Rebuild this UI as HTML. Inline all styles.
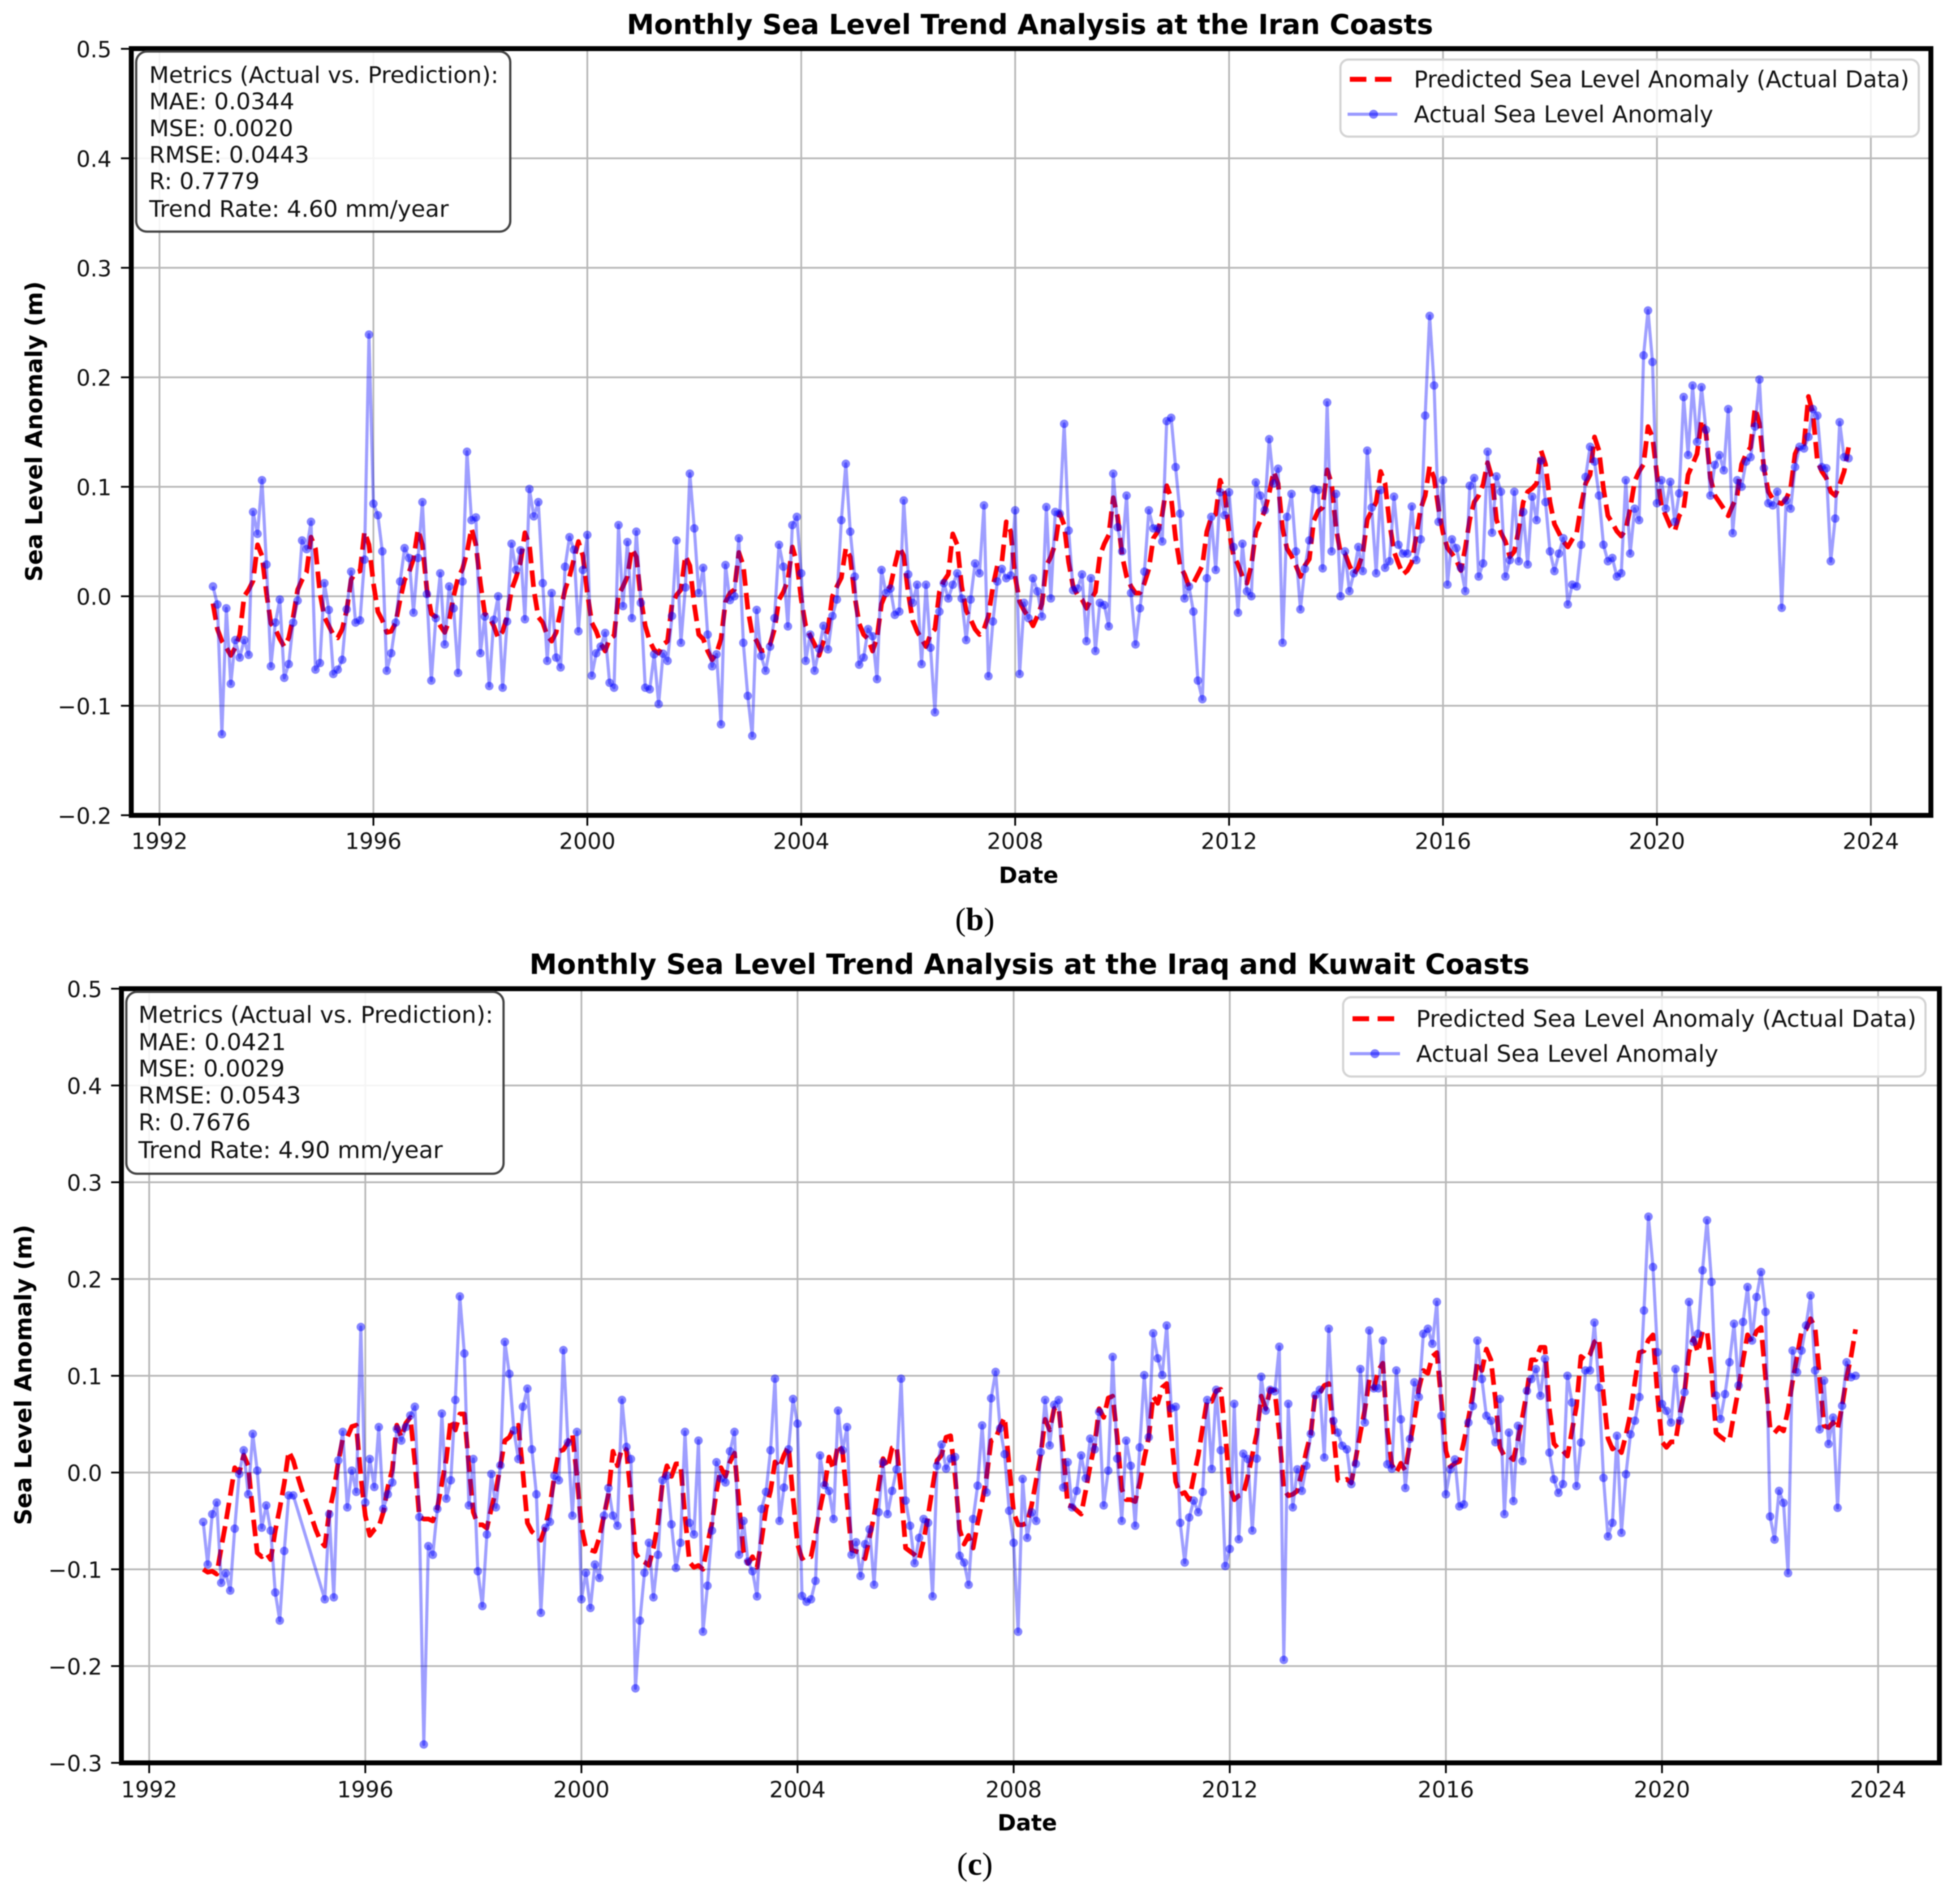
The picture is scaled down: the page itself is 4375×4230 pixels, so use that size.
<!DOCTYPE html>
<html lang="en">
<head>
<meta charset="utf-8">
<title>Monthly Sea Level Trend Analysis</title>
<style>
html,body{margin:0;padding:0;background:#fff;}
#figure{display:block;width:4375px;height:4230px;filter:blur(1.3px);}
text{font-family:"DejaVu Sans","Liberation Sans",sans-serif;fill:#000;}
.title{font-weight:bold;text-anchor:middle;}
.title-b{font-size:61.4px;}
.title-c{font-size:62px;}
.axis-label{font-size:50px;font-weight:bold;text-anchor:middle;}
.y-label{font-size:51.8px;}
.box-text-b{font-size:51.2px;fill:#111;}
.box-text-c{font-size:52px;fill:#111;}
.legend-text-b{font-size:51.5px;fill:#111;}
.legend-text-c{font-size:52px;fill:#111;}
.tick-label{font-size:49.5px;fill:#111;}
.caption{font-family:"Liberation Serif",serif;font-size:72px;text-anchor:middle;}
</style>
</head>
<body>
<svg id="figure" xmlns="http://www.w3.org/2000/svg" width="4375" height="4230" viewBox="0 0 4375 4230">
  <rect x="0" y="0" width="4375" height="4230" fill="#ffffff"/>

  <g id="chart-b"></g>
  <g>
    <rect x="304" y="115" width="835" height="402" rx="24" ry="24" fill="#ffffff" fill-opacity="0.85" stroke="#444444" stroke-width="5"/>
    <text class="box-text-b" x="333" y="185">Metrics (Actual vs. Prediction):</text>
    <text class="box-text-b" x="333" y="244">MAE: 0.0344</text>
    <text class="box-text-b" x="333" y="304">MSE: 0.0020</text>
    <text class="box-text-b" x="333" y="363">RMSE: 0.0443</text>
    <text class="box-text-b" x="333" y="422">R: 0.7779</text>
    <text class="box-text-b" x="333" y="484">Trend Rate: 4.60 mm/year</text>
  </g>
  <g>
    <rect x="2992" y="133" width="1291" height="172" rx="18" ry="18" fill="#ffffff" fill-opacity="0.8" stroke="#d4d4d4" stroke-width="5"/>
    <line x1="3013" y1="177" x2="3107" y2="177" stroke="#ff0000" stroke-width="11" stroke-dasharray="37 19"/>
    <text class="legend-text-b" x="3156" y="195">Predicted Sea Level Anomaly (Actual Data)</text>
    <line x1="3008" y1="255" x2="3119" y2="255" stroke="#0000ff" stroke-opacity="0.4" stroke-width="7"/>
    <circle cx="3066" cy="255" r="10" fill="#0000ff" fill-opacity="0.5"/>
    <text class="legend-text-b" x="3156" y="273">Actual Sea Level Anomaly</text>
  </g>
  <text class="title title-b" x="2299" y="76">Monthly Sea Level Trend Analysis at the Iran Coasts</text>
  <text class="axis-label" x="2296" y="1971">Date</text>
  <text class="axis-label y-label" transform="translate(94 963) rotate(-90)" x="0" y="0">Sea Level Anomaly (m)</text>
  <text class="caption" x="2176" y="2076">(<tspan font-weight="bold">b</tspan>)</text>

  <g id="chart-c"></g>
  <g>
    <rect x="282" y="2214" width="842" height="406" rx="24" ry="24" fill="#ffffff" fill-opacity="0.85" stroke="#444444" stroke-width="5"/>
    <text class="box-text-c" x="309" y="2283">Metrics (Actual vs. Prediction):</text>
    <text class="box-text-c" x="309" y="2344">MAE: 0.0421</text>
    <text class="box-text-c" x="309" y="2403">MSE: 0.0029</text>
    <text class="box-text-c" x="309" y="2463">RMSE: 0.0543</text>
    <text class="box-text-c" x="309" y="2523">R: 0.7676</text>
    <text class="box-text-c" x="309" y="2585">Trend Rate: 4.90 mm/year</text>
  </g>
  <g>
    <rect x="2998" y="2226" width="1300" height="177" rx="18" ry="18" fill="#ffffff" fill-opacity="0.8" stroke="#d4d4d4" stroke-width="5"/>
    <line x1="3019" y1="2274" x2="3113" y2="2274" stroke="#ff0000" stroke-width="11" stroke-dasharray="37 19"/>
    <text class="legend-text-c" x="3161" y="2292">Predicted Sea Level Anomaly (Actual Data)</text>
    <line x1="3013" y1="2352" x2="3125" y2="2352" stroke="#0000ff" stroke-opacity="0.4" stroke-width="7"/>
    <circle cx="3069" cy="2352" r="10" fill="#0000ff" fill-opacity="0.5"/>
    <text class="legend-text-c" x="3161" y="2370">Actual Sea Level Anomaly</text>
  </g>
  <text class="title title-c" x="2298" y="2174">Monthly Sea Level Trend Analysis at the Iraq and Kuwait Coasts</text>
  <text class="axis-label" x="2293" y="4086">Date</text>
  <text class="axis-label y-label" transform="translate(70 3069) rotate(-90)" x="0" y="0">Sea Level Anomaly (m)</text>
  <text class="caption" x="2176" y="4185">(<tspan font-weight="bold">c</tspan>)</text>
</svg>

<script>
const startYear = 1993;
const xTickYears = [1992,1996,2000,2004,2008,2012,2016,2020,2024];
const yTicksIran = [0.5,0.4,0.3,0.2,0.1,0,-0.1,-0.2];
const yTicksIraq = [0.5,0.4,0.3,0.2,0.1,0,-0.1,-0.2,-0.3];

const actualIran = [
0.009,-0.0075,-0.126,-0.011,-0.08,-0.04,-0.056,-0.04,-0.0535,0.077,0.057,0.106,
0.029,-0.064,-0.024,-0.003,-0.0745,-0.062,-0.024,-0.004,0.051,0.043,0.068,-0.067,
-0.061,0.012,-0.0125,-0.071,-0.067,-0.058,-0.012,0.0225,-0.024,-0.022,0.0335,0.239,
0.0845,0.074,0.041,-0.068,-0.052,-0.024,0.0135,0.044,0.035,-0.015,0.035,0.086,
0.002,-0.077,-0.02,0.021,-0.044,0.009,-0.011,-0.07,0.0135,0.132,0.0695,0.072,
-0.052,-0.0185,-0.082,-0.0215,0,-0.0835,-0.023,0.048,0.024,0.042,-0.021,0.098,
0.073,0.086,0.012,-0.059,0.003,-0.056,-0.065,0.027,0.054,0.0425,-0.032,0.024,
0.056,-0.0725,-0.052,-0.046,-0.0335,-0.079,-0.0835,0.065,-0.009,0.0495,-0.02,0.059,
-0.006,-0.0835,-0.085,-0.053,-0.0985,-0.0525,-0.059,-0.018,0.051,-0.0425,0.008,0.112,
0.062,0.003,0.026,-0.035,-0.064,-0.053,-0.117,0.0285,-0.0035,0,0.053,-0.0425,
-0.091,-0.1275,-0.0125,-0.0545,-0.068,-0.046,-0.02,0.047,0.027,-0.0275,0.065,0.0725,
0.021,-0.059,-0.035,-0.068,-0.048,-0.027,-0.0485,-0.018,-0.003,0.0695,0.121,0.059,
0.018,-0.0625,-0.056,-0.03,-0.0365,-0.0757,0.024,0.003,0.007,-0.017,-0.014,0.0875,
0.02,-0.006,0.0105,-0.062,0.0105,-0.047,-0.106,-0.014,0.012,-0.002,0.0105,0.021,
-0.002,-0.04,-0.003,0.03,0.021,0.083,-0.073,-0.023,0.0135,0.025,0.0165,0.019,
0.0785,-0.071,-0.006,-0.02,0.0165,0.0045,-0.0185,0.0815,-0.002,0.077,0.0755,0.1575,
0.06,0.0055,0.007,0.02,-0.041,0.0165,-0.05,-0.006,-0.008,-0.0275,0.112,0.063,
0.041,0.092,0.003,-0.044,-0.011,0.0225,0.0785,0.062,0.062,0.05,0.16,0.163,
0.118,0.0755,-0.002,0.009,-0.014,-0.077,-0.094,0.0165,0.0725,0.024,0.095,0.074,
0.095,0.045,-0.015,0.048,0.0045,0,0.104,0.092,0.0785,0.1435,0.103,0.1165,
-0.0425,0.0725,0.0935,0.041,-0.012,0.025,0.051,0.098,0.097,0.0255,0.177,0.041,
0.0935,0,0.041,0.0047,0.021,0.045,0.023,0.133,0.081,0.021,0.097,0.026,
0.032,0.091,0.047,0.039,0.039,0.082,0.033,0.052,0.165,0.256,0.1925,0.068,
0.106,0.0106,0.052,0.044,0.026,0.0047,0.101,0.108,0.018,0.03,0.132,0.058,
0.1095,0.0955,0.018,0.033,0.0955,0.032,0.077,0.029,0.091,0.0695,0.124,0.086,
0.041,0.023,0.039,0.053,-0.0075,0.0106,0.009,0.047,0.109,0.1365,0.123,0.092,
0.047,0.032,0.035,0.018,0.021,0.106,0.039,0.08,0.0695,0.22,0.261,0.214,
0.085,0.106,0.08,0.1045,0.068,0.094,0.182,0.129,0.1925,0.141,0.191,0.152,
0.092,0.12,0.129,0.115,0.171,0.0576,0.106,0.1,0.123,0.127,0.155,0.198,
0.117,0.085,0.083,0.0955,-0.0106,0.0876,0.08,0.118,0.1365,0.135,0.1455,0.171,
0.165,0.118,0.117,0.032,0.071,0.159,0.127,0.126
];

const predictedIran = [
-0.0066,-0.03,-0.041,-0.047,-0.054,-0.047,-0.035,0,0.006,0.014,0.047,0.037,
0.003,-0.025,-0.03,-0.039,-0.046,-0.038,-0.019,0.006,0.015,0.022,0.054,0.0435,
0.003,-0.019,-0.027,-0.035,-0.038,-0.03,-0.013,0.015,0.022,0.023,0.059,0.047,
0.012,-0.014,-0.022,-0.033,-0.032,-0.024,-0.003,0.015,0.022,0.034,0.061,0.047,
0.006,-0.016,-0.019,-0.027,-0.033,-0.022,0,0.017,0.025,0.04,0.062,0.047,
0.012,-0.016,-0.019,-0.027,-0.038,-0.032,-0.019,0.006,0.017,0.031,0.058,0.047,
0.006,-0.019,-0.024,-0.036,-0.041,-0.033,-0.013,0.006,0.018,0.034,0.05,0.037,
0.003,-0.024,-0.032,-0.043,-0.05,-0.039,-0.036,0.001,0.009,0.018,0.0435,0.036,
-0.002,-0.027,-0.041,-0.049,-0.052,-0.044,-0.041,-0.007,0.001,0.006,0.037,0.028,
-0.008,-0.035,-0.039,-0.05,-0.058,-0.052,-0.039,-0.005,0.003,0.006,0.04,0.028,
-0.011,-0.035,-0.041,-0.05,-0.049,-0.044,-0.03,-0.003,0.004,0.015,0.045,0.031,
-0.003,-0.027,-0.036,-0.044,-0.054,-0.041,-0.03,0,0.009,0.017,0.044,0.036,
0,-0.025,-0.035,-0.039,-0.05,-0.038,-0.007,0.003,0.009,0.028,0.045,0.037,
0.003,-0.022,-0.032,-0.039,-0.046,-0.035,-0.03,0.004,0.014,0.02,0.057,0.047,
0.009,-0.013,-0.021,-0.03,-0.035,-0.03,-0.018,0.009,0.028,0.031,0.068,0.059,
0.018,-0.005,-0.013,-0.019,-0.027,-0.018,-0.007,0.028,0.036,0.048,0.076,0.065,
0.031,0.009,0.001,-0.003,-0.011,-0.003,0.004,0.037,0.048,0.056,0.09,0.072,
0.037,0.018,0.009,0.003,0.003,0.012,0.025,0.053,0.059,0.075,0.101,0.09,
0.053,0.028,0.02,0.009,0.012,0.02,0.028,0.059,0.072,0.075,0.106,0.094,
0.059,0.037,0.029,0.018,0.012,0.028,0.059,0.069,0.078,0.094,0.114,0.103,
0.062,0.0435,0.037,0.028,0.018,0.028,0.034,0.069,0.078,0.081,0.1155,0.103,
0.062,0.04,0.039,0.028,0.02,0.0266,0.039,0.07,0.078,0.086,0.114,0.103,
0.067,0.041,0.03,0.02,0.0235,0.031,0.055,0.08,0.092,0.119,0.108,0.08,
0.058,0.044,0.039,0.033,0.0235,0.044,0.07,0.086,0.092,0.102,0.122,0.108,
0.07,0.058,0.05,0.036,0.041,0.061,0.086,0.0955,0.0985,0.103,0.133,0.1205,
0.086,0.066,0.058,0.05,0.045,0.052,0.058,0.083,0.103,0.111,0.1455,0.133,
0.0985,0.0735,0.067,0.0595,0.055,0.061,0.08,0.105,0.114,0.1205,0.155,0.1455,
0.111,0.083,0.0735,0.064,0.0595,0.0735,0.08,0.111,0.1205,0.13,0.161,0.149,
0.108,0.092,0.086,0.08,0.0735,0.083,0.092,0.1205,0.13,0.136,0.172,0.158,
0.117,0.0955,0.089,0.086,0.0845,0.089,0.0985,0.13,0.139,0.139,0.1825,0.167,
0.1235,0.114,0.108,0.0955,0.092,0.102,0.114,0.136
];

const actualIraq = [
-0.051,-0.095,-0.043,-0.031,-0.114,-0.104,-0.122,-0.058,-0.0015,0.023,-0.0225,0.04,
0.002,-0.057,-0.034,-0.06,-0.124,-0.153,-0.081,-0.0236,-0.0236,null,null,null,
null,null,null,-0.131,-0.043,-0.129,0.0125,0.042,-0.036,0.002,-0.02,0.1504,
-0.031,0.014,-0.015,0.047,-0.0376,-0.0225,-0.0103,0.045,0.033,0.047,0.059,0.068,
-0.046,-0.281,-0.076,-0.085,-0.0376,0.061,-0.027,-0.008,0.075,0.182,0.123,-0.034,
0.014,-0.102,-0.138,-0.064,-0.0015,-0.036,0.0074,0.135,0.102,0.0435,0.014,0.068,
0.0867,0.024,-0.0225,-0.145,-0.057,-0.051,-0.0033,-0.008,0.1265,0.031,-0.0446,0.042,
-0.131,-0.1036,-0.14,-0.095,-0.109,-0.0446,-0.016,-0.0446,-0.055,0.075,0.0265,0.014,
-0.223,-0.153,-0.1036,-0.0726,-0.129,-0.085,-0.008,-0.0033,-0.0535,-0.0985,-0.0726,0.042,
-0.052,-0.064,0.033,-0.1645,-0.117,-0.06,0.0107,-0.006,-0.0103,0.022,0.042,-0.085,
-0.05,-0.092,-0.102,-0.128,-0.0376,-0.02,0.023,0.097,-0.05,-0.0155,0.024,0.076,
0.0505,-0.1276,-0.1335,-0.131,-0.112,0.0177,-0.013,-0.019,-0.048,0.064,0.023,0.047,
-0.085,-0.072,-0.107,-0.074,-0.0586,-0.116,-0.041,0.0107,-0.043,-0.019,0.0033,0.097,
-0.029,-0.055,-0.0937,-0.0675,-0.048,-0.052,-0.128,0.007,0.029,0.004,0.0144,0.016,
-0.086,-0.093,-0.116,-0.048,-0.0136,0.0487,-0.0206,0.0767,0.104,0.0457,0.019,-0.0395,
-0.0726,-0.1645,-0.0066,-0.0675,-0.041,-0.05,0.021,0.075,0.028,0.07,0.075,-0.0155,
0.0107,-0.036,-0.019,0.0177,-0.006,0.035,0.024,0.0627,-0.034,0.002,0.1195,0.0144,
-0.05,0.033,0.007,-0.055,0.026,0.1007,0.0365,0.144,0.118,0.1007,0.152,0.0664,
0.068,-0.052,-0.093,-0.0465,-0.029,-0.041,-0.02,0.075,0.0037,0.0855,0.023,-0.0966,
-0.079,0.071,-0.069,0.0195,0.014,-0.06,0.0144,0.099,0.064,0.0855,0.084,0.13,
-0.1936,0.071,-0.036,0.0033,-0.019,0.007,0.04,0.08,0.0855,0.0155,0.1486,0.0535,
0.0413,0.0277,0.024,-0.012,0.009,0.107,0.0516,0.1468,0.087,0.087,0.1364,0.0085,
0.004,0.1055,0.055,-0.016,0.0347,0.0933,0.078,0.1434,0.1486,0.133,0.1763,0.0586,
-0.0225,0.0033,0.0136,-0.035,-0.033,0.0516,0.0686,0.1364,0.0966,0.0586,0.0535,0.0313,
0.076,-0.043,0.0413,-0.0295,0.0483,0.0118,0.0844,0.0966,0.107,0.0793,0.1176,0.0206,
-0.007,-0.021,-0.012,0.1,0.0723,-0.014,0.031,0.1055,0.1055,0.155,0.0878,-0.0055,
-0.066,-0.052,0.038,-0.0623,-0.0018,0.0395,0.0535,0.078,0.1674,0.2644,0.2124,0.1243,
0.0708,0.0638,0.0516,0.107,0.0535,0.083,0.1763,0.135,0.1434,0.209,0.2607,0.197,
0.0796,0.0553,0.081,0.114,0.1538,0.09,0.1556,0.1917,0.1364,0.1814,0.2072,0.166,
-0.0454,-0.0693,-0.019,-0.0313,-0.104,0.126,0.1036,0.126,0.152,0.183,0.1055,0.0446,
0.095,0.0295,0.0568,-0.0365,0.069,0.114,0.0985,0.1
];

const predictedIraq = [
-0.1,-0.103,-0.102,-0.105,-0.078,-0.052,-0.024,0.005,0,0.018,0.007,-0.041,
-0.083,-0.087,-0.083,-0.09,-0.06,-0.037,-0.011,0.022,0.0125,-0.004,-0.019,-0.032,
-0.045,-0.059,-0.07,-0.076,-0.041,-0.019,0.011,0.035,0.0365,0.0475,0.049,-0.004,
-0.0446,-0.065,-0.059,-0.056,-0.041,-0.015,0.003,0.049,0.0365,0.051,0.057,0.011,
-0.046,-0.048,-0.048,-0.05,-0.037,-0.011,0.014,0.055,0.044,0.0605,0.0605,0.007,
-0.041,-0.054,-0.054,-0.0575,-0.037,-0.019,0.007,0.033,0.0365,0.046,0.049,0,
-0.052,-0.061,-0.065,-0.07,-0.056,-0.0335,-0.004,0.022,0.0235,0.031,0.04,-0.004,
-0.056,-0.078,-0.08,-0.0815,-0.067,-0.0446,-0.0225,0.022,0.007,0.0255,0.0235,-0.026,
-0.083,-0.09,-0.0925,-0.096,-0.078,-0.052,-0.011,0.007,-0.004,0.009,0.009,-0.0446,
-0.0925,-0.098,-0.096,-0.1,-0.074,-0.052,-0.019,0.005,-0.004,0.011,0.02,-0.0335,
-0.0815,-0.094,-0.087,-0.098,-0.07,-0.037,-0.019,0.011,0.005,0.018,0.027,-0.026,
-0.074,-0.089,-0.086,-0.087,-0.063,-0.037,-0.015,0.016,0.0033,0.029,0.022,-0.03,
-0.08,-0.0815,-0.083,-0.089,-0.067,-0.0446,-0.015,0.0144,0.005,0.0255,0.027,-0.019,
-0.078,-0.0815,-0.085,-0.09,-0.07,-0.0446,-0.015,0.0125,0.018,0.0365,0.038,-0.004,
-0.059,-0.074,-0.065,-0.078,-0.052,-0.03,-0.004,0.033,0.035,0.0475,0.057,0.007,
-0.041,-0.054,-0.054,-0.052,-0.0335,-0.008,0.018,0.055,0.044,0.066,0.068,0.022,
-0.0335,-0.035,-0.039,-0.043,-0.019,0.007,0.029,0.066,0.057,0.077,0.079,0.0365,
-0.017,-0.028,-0.028,-0.03,-0.011,0.0144,0.0365,0.079,0.0715,0.088,0.092,0.04,
-0.0096,-0.0225,-0.0206,-0.028,-0.004,0.018,0.0475,0.075,0.0735,0.0845,0.086,0.04,
-0.015,-0.028,-0.024,-0.0225,-0.004,0.018,0.04,0.079,0.066,0.086,0.0845,0.04,
-0.017,-0.024,-0.0225,-0.019,0,0.022,0.04,0.0825,0.0825,0.09,0.092,0.044,
-0.008,-0.009,-0.007,-0.0107,0.015,0.041,0.065,0.096,0.087,0.1055,0.113,0.043,
0.008,0,0.0096,0.002,0.03,0.0557,0.087,0.1055,0.1025,0.12,0.124,0.074,
0.0225,0.006,0.0096,0.0114,0.0317,0.0557,0.0815,0.1147,0.1055,0.1276,0.1165,0.076,
0.026,0.017,0.017,0.0133,0.0336,0.0575,0.0833,0.1165,0.1165,0.1294,0.1294,0.065,
0.03,0.0243,0.0225,0.017,0.043,0.0686,0.12,0.1165,0.122,0.135,0.1386,0.0796,
0.0354,0.0243,0.028,0.0206,0.039,0.061,0.0944,0.124,0.1257,0.137,0.1423,0.0796,
0.0317,0.026,0.0317,0.0317,0.061,0.0833,0.124,0.1386,0.124,0.146,0.146,0.1055,
0.041,0.037,0.0336,0.0336,0.061,0.087,0.1165,0.1423,0.135,0.146,0.15,0.098,
0.0465,0.041,0.0465,0.043,0.065,0.0944,0.12,0.146,0.148,0.159,0.15,0.098,
0.0483,0.0465,0.052,0.0446,0.0686,0.098,0.12,0.148
];

const SVG_NS = 'http://www.w3.org/2000/svg';

function shape(parent, tag, attrs) {
  const node = document.createElementNS(SVG_NS, tag);
  for (const key in attrs) node.setAttribute(key, attrs[key]);
  parent.appendChild(node);
  return node;
}

function tickText(value) {
  if (value === 0) return '0.0';
  const s = Math.abs(value).toFixed(1);
  return value < 0 ? '\u2212' + s : s;
}

function drawChart(rootId, frame, yTicks, predicted, actual) {
  const root = document.getElementById(rootId);
  const xScale = year => frame.xAt1992 + (year - 1992) * frame.pxPerYear;
  const yScale = v => frame.yAt0 - v * frame.pxPerUnit;
  const dateOf = i => startYear + i / 12;

  const grid = shape(root, 'g', {stroke:'#b8b8b8', 'stroke-width':4, fill:'none'});
  
  
  xTickYears.forEach(function (year) {
    const line = shape(grid, 'line', {x1:xScale(year), x2:xScale(year), y1:frame.top, y2:frame.bottom});
    
    
  });
  yTicks.forEach(function (v) {
    const line = shape(grid, 'line', {x1:frame.left, x2:frame.right, y1:yScale(v), y2:yScale(v)});
    
    
  });

  const predPts = predicted.map((v, i) => xScale(dateOf(i)).toFixed(1) + ',' + yScale(v).toFixed(1)).join(' ');
  const predLine = shape(root, 'polyline', {points:predPts, fill:'none', stroke:'#ff0000', 'stroke-width':10.5, 'stroke-dasharray':'37 16', 'stroke-linejoin':'round'});
  
  

  const present = [];
  actual.forEach(function (v, i) { if (v !== null) present.push([dateOf(i), v]); });
  const actPts = present.map(p => xScale(p[0]).toFixed(1) + ',' + yScale(p[1]).toFixed(1)).join(' ');
  const actLine = shape(root, 'polyline', {points:actPts, fill:'none', stroke:'#0000ff', 'stroke-opacity':0.38, 'stroke-width':7, 'stroke-linejoin':'round'});
  
  

  const dots = shape(root, 'g', {fill:'#0000ff', 'fill-opacity':0.48});
  
  
  present.forEach(function (p) {
    const dot = shape(dots, 'circle', {cx:xScale(p[0]).toFixed(1), cy:yScale(p[1]).toFixed(1), r:9.5});
    
    
  });

  const ticks = shape(root, 'g', {stroke:'#000', 'stroke-width':4});
  
  
  xTickYears.forEach(function (year) {
    const mark = shape(ticks, 'line', {x1:xScale(year), x2:xScale(year), y1:frame.bottom, y2:frame.bottom + 23});
    
    
    const label = shape(root, 'text', {x:xScale(year), y:frame.xLabelBaseline, 'text-anchor':'middle', 'class':'tick-label'});
    label.textContent = String(year);
    
    
  });
  yTicks.forEach(function (v) {
    const mark = shape(ticks, 'line', {x1:frame.left - 23, x2:frame.left, y1:yScale(v), y2:yScale(v)});
    
    
    const label = shape(root, 'text', {x:frame.yLabelRight, y:yScale(v) + 19, 'text-anchor':'end', 'class':'tick-label'});
    label.textContent = tickText(v);
    
    
  });

  const spines = shape(root, 'rect', {x:frame.left, y:frame.top, width:frame.right - frame.left, height:frame.bottom - frame.top, fill:'none', stroke:'#000', 'stroke-width':11});
  
  
}

drawChart('chart-b',
  {left:293, right:4310, top:108.5, bottom:1820, xAt1992:356, pxPerYear:119.375, yAt0:1331, pxPerUnit:2444, xLabelBaseline:1895, yLabelRight:249},
  yTicksIran, predictedIran, actualIran);

drawChart('chart-c',
  {left:271, right:4329, top:2207, bottom:3935, xAt1992:333, pxPerYear:120.6, yAt0:3287, pxPerUnit:2160, xLabelBaseline:4012, yLabelRight:228},
  yTicksIraq, predictedIraq, actualIraq);
</script>
</body>
</html>
